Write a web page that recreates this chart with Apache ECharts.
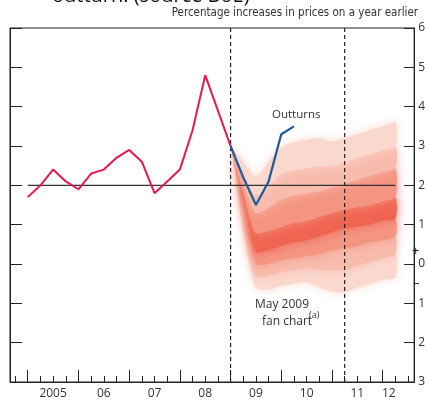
<!DOCTYPE html>
<html>
<head>
<meta charset="utf-8">
<script src="https://cdn.jsdelivr.net/npm/echarts@6/dist/echarts.min.js"></script>
<style>
html,body{margin:0;padding:0;background:#fff;}
#c{width:428px;height:400px;}
</style>
</head>
<body>
<div id="c"></div>
<script>
// ---- data ----
const cpiDates = [2005,2005.25,2005.5,2005.75,2006,2006.25,2006.5,2006.75,2007,2007.25,2007.5,2007.75,2008,2008.25,2008.5,2008.75,2009];
const cpiValues = [1.7,2.0,2.4,2.1,1.9,2.3,2.4,2.7,2.9,2.6,1.8,2.1,2.4,3.4,4.8,3.9,3.0];
const outturnDates = [2009,2009.25,2009.5,2009.75,2010,2010.25];
const outturnValues = [3.0,2.2,1.5,2.1,3.3,3.5];
const fanDates = [2009,2009.25,2009.5,2009.75,2010,2010.25,2010.5,2010.75,2011,2011.25,2011.5,2011.75,2012,2012.25];
const fanLow90  = [3.0,0.8,-0.6,-0.65,-0.55,-0.5,-0.45,-0.6,-0.7,-0.72,-0.6,-0.5,-0.4,-0.35];
const fanLow60  = [3.0,1.05,-0.3,-0.3,-0.2,-0.15,-0.1,-0.15,-0.15,-0.15,-0.05,0.05,0.15,0.25];
const fanLow30  = [3.0,1.3,0.0,0.0,0.1,0.15,0.2,0.25,0.35,0.4,0.45,0.55,0.6,0.7];
const fanLow10  = [3.0,1.55,0.3,0.35,0.45,0.55,0.6,0.7,0.8,0.9,0.95,1.0,1.1,1.15];
const fanHigh10 = [3.0,1.85,0.8,0.85,0.95,1.05,1.1,1.2,1.3,1.4,1.45,1.5,1.6,1.7];
const fanHigh30 = [3.0,2.1,1.3,1.45,1.65,1.75,1.8,1.85,1.95,2.05,2.15,2.25,2.35,2.45];
const fanHigh60 = [3.0,2.35,1.75,2.0,2.3,2.4,2.45,2.5,2.5,2.6,2.7,2.8,2.9,3.0];
const fanHigh90 = [3.0,2.6,2.2,2.6,2.95,3.1,3.15,3.2,3.12,3.2,3.3,3.4,3.5,3.6];
const targetLine = [[2005,2],[2012.25,2]];
const forecastMarks = [2009, 2011.25];
const yearTicks = [2005,2006,2007,2008,2009,2010,2011,2012];
const quarterTicks = [2004.75,2005.25,2005.5,2005.75,2006.25,2006.5,2006.75,2007.25,2007.5,2007.75,2008.25,2008.5,2008.75,2009.25,2009.5,2009.75,2010.25,2010.5,2010.75,2011.25,2011.5,2011.75,2012.25,2012.5];
const yearLabels = ['2005','06','07','08','09','10','11','12'];
const yearLabelPos = [2005.5,2006.5,2007.5,2008.5,2009.5,2010.5,2011.5,2012.12];

// ---- chart ----
const fanEdges = [fanLow90,fanLow60,fanLow30,fanLow10,fanHigh10,fanHigh30,fanHigh60,fanHigh90];
const bandColors = ['#fbd8ce','#f8bcad','#f49582','#f06552','#f49582','#f8bcad','#fbd8ce'];
const chart = echarts.init(document.getElementById('c'), null, {renderer:'canvas'});
const txt = '#333';
const lab = yearLabelPos.map((p,i)=>[p,yearLabels[i]]);

const opt = {
  animation:false,
  grid:{left:10,right:11,top:28,bottom:15,show:true,borderColor:'#222',borderWidth:1,backgroundColor:'transparent'},
  xAxis:[{
    type:'value',min:2004.65,max:2012.62,position:'bottom',
    axisLine:{show:true,onZero:false,lineStyle:{color:'#222',width:1}},
    axisTick:{show:true,inside:true,length:12,customValues:yearTicks,lineStyle:{color:'#222',width:1}},
    axisLabel:{show:true,customValues:yearLabelPos,margin:6,color:txt,fontSize:12,fontFamily:'Open Sans',
      formatter:function(v){for(const l of lab){if(Math.abs(l[0]-v)<1e-6)return l[1];}return '';}},
    splitLine:{show:false}
  },{
    type:'value',min:2004.65,max:2012.62,position:'bottom',
    axisLine:{show:false,onZero:false},
    axisTick:{show:true,inside:true,length:6,customValues:quarterTicks,lineStyle:{color:'#222',width:1}},
    axisLabel:{show:false},splitLine:{show:false}
  }],
  yAxis:[{
    type:'value',min:-3,max:6,interval:1,position:'left',
    axisLine:{show:true,onZero:false,lineStyle:{color:'#222',width:1}},
    axisTick:{show:true,inside:true,length:12,lineStyle:{color:'#222'}},
    axisLabel:{show:false},splitLine:{show:false}
  },{
    type:'value',min:-3,max:6,interval:1,position:'right',
    axisLine:{show:true,onZero:false,lineStyle:{color:'#222',width:1}},
    axisTick:{show:true,inside:true,length:10,lineStyle:{color:'#222'}},
    axisLabel:{show:true,margin:4,color:txt,fontSize:12,fontFamily:'Open Sans',formatter:function(v){return String(Math.abs(v));}},
    splitLine:{show:false}
  }],
  series:[
    {type:'custom',xAxisIndex:0,yAxisIndex:0,z:1,silent:true,
     data:bandColors.map((c,i)=>[2010,1,i]),encode:{x:0,y:1},
     renderItem:function(params,api){
       const k=api.value(2);const lo=fanEdges[k],hi=fanEdges[k+1];const pts=[];
       for(let i=0;i<fanDates.length;i++)pts.push(api.coord([fanDates[i],hi[i]]));
       for(let i=fanDates.length-1;i>=0;i--)pts.push(api.coord([fanDates[i],lo[i]]));
       return {type:'polygon',shape:{points:pts,smooth:0.25},style:{fill:bandColors[k],shadowBlur:10,shadowColor:bandColors[k]}};
     }},
    {type:'line',z:3,data:targetLine,symbol:'none',lineStyle:{color:'#333',width:1.2},silent:true},
    {type:'line',z:3,data:[[forecastMarks[0],-3],[forecastMarks[0],6]],symbol:'none',lineStyle:{color:'#222',width:1.2,type:[4,3]},silent:true},
    {type:'line',z:3,data:[[forecastMarks[1],-3],[forecastMarks[1],6]],symbol:'none',lineStyle:{color:'#222',width:1.2,type:[4,3]},silent:true},
    {type:'line',z:4,data:cpiDates.map((d,i)=>[d,cpiValues[i]]),symbol:'none',lineStyle:{color:'#e8194c',width:2}},
    {type:'line',z:5,data:outturnDates.map((d,i)=>[d,outturnValues[i]]),symbol:'none',lineStyle:{color:'#1d5b9a',width:2.2}}
  ],
  graphic:[
    {type:'text',left:52,top:-14,style:{text:'outturn. (source BoE)',fontSize:20,fontFamily:'Open Sans',fill:'#111'}},
    {type:'text',right:10,top:7,style:{text:'Percentage increases in prices on a year earlier',fontSize:11.5,fontFamily:'Liberation Sans Narrow, DejaVu Sans Condensed, sans-serif',fill:txt}},
    {type:'text',left:272,top:109,style:{text:'Outturns',fontSize:11.5,fontFamily:'Open Sans',fill:txt}},
    {type:'text',left:255,top:299,style:{text:'May 2009',fontSize:12,fontFamily:'Open Sans',fill:txt}},
    {type:'text',left:262,top:316,style:{text:'fan chart',fontSize:12,fontFamily:'Open Sans',fill:txt}},
    {type:'text',left:309,top:311,style:{text:'(a)',fontSize:9,fontFamily:'Open Sans',fill:txt}},
    {type:'text',left:412,top:245,style:{text:'+',fontSize:13,fontFamily:'Open Sans',fill:'#222'}},
    {type:'text',left:413,top:277,style:{text:'–',fontSize:13,fontFamily:'Open Sans',fill:'#222'}}
  ]
};
chart.setOption(opt);
</script>
</body>
</html>
